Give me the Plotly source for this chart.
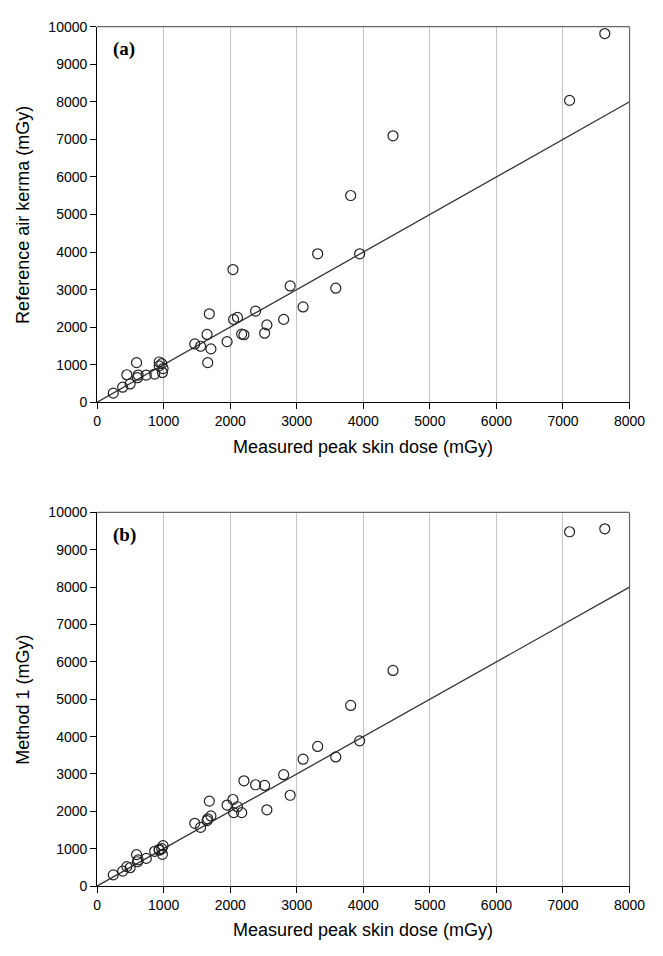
import plotly.graph_objects as go

# Measured peak skin dose (mGy) - shared x values
measured_psd = [243, 384, 496, 447, 593, 617, 607, 739, 865, 933, 972, 933, 991, 981,
                1467, 1555, 1652, 1662, 1686, 1710, 1953, 2041, 2051, 2109, 2172, 2206,
                2381, 2517, 2551, 2803, 2901, 3095, 3314, 3586, 3810, 3945, 4446, 7099, 7628]
# Panel (a): Reference air kerma (mGy)
ref_air_kerma = [243, 401, 489, 733, 1055, 725, 654, 725, 751, 1073, 1029, 969, 898, 793,
                 1553, 1492, 1806, 1055, 2356, 1422, 1615, 3534, 2207, 2260, 1815, 1798,
                 2427, 1840, 2060, 2207, 3097, 2539, 3953, 3037, 5505, 3953, 7094, 8037, 9817]
# Panel (b): Method 1 (mGy)
method1 = [300, 400, 490, 520, 840, 700, 650, 740, 930, 980, 1000, 960, 1080, 850,
           1680, 1570, 1750, 1800, 2272, 1877, 2167, 2316, 1965, 2123, 1965, 2816,
           2711, 2693, 2040, 2980, 2430, 3395, 3737, 3455, 4833, 3886, 5771, 9482, 9561]
# Identity line
line_x = [0, 8000]
line_y = [0, 8000]

x_ticks = list(range(0, 8001, 1000))
y_ticks = list(range(0, 10001, 1000))
x_tick_text = [str(v) for v in x_ticks]
y_tick_text = [str(v) for v in y_ticks]

W, H = 663, 956
FONT = "Liberation Sans, Arial, sans-serif"

fig = go.Figure()

# pixel geometry
xl, xr = 96, 645
panels = [
    dict(top=19, bottom=401, xa="x", ya="y", y=ref_air_kerma, label="(a)",
         ytitle="Reference air kerma (mGy)"),
    dict(top=513, bottom=893, xa="x2", ya="y2", y=method1, label="(b)",
         ytitle="Method 1 (mGy)"),
]

annotations = []
shapes = []
for i, p in enumerate(panels):
    fig.add_trace(go.Scatter(x=line_x, y=line_y, mode="lines",
                             line=dict(color="#333333", width=1.3),
                             xaxis=p["xa"], yaxis=p["ya"], showlegend=False,
                             hoverinfo="skip"))
    fig.add_trace(go.Scatter(x=measured_psd, y=p["y"], mode="markers",
                             marker=dict(symbol="circle-open", size=10,
                                         color="#222222", line=dict(width=1.2)),
                             xaxis=p["xa"], yaxis=p["ya"], showlegend=False))
    suffix = "" if i == 0 else "2"
    dom_x = [xl / W, xr / W]
    dom_y = [1 - p["bottom"] / H, 1 - p["top"] / H]
    axis_common = dict(showline=True, linecolor="black", linewidth=1,
                       ticks="outside", ticklen=6, tickcolor="black",
                       tickfont=dict(family=FONT, size=14, color="black"),
                       zeroline=False)
    fig.update_layout(**{
        "xaxis" + suffix: dict(domain=dom_x, range=[0, 8000], tickvals=x_ticks,
                               ticktext=x_tick_text,
                               showgrid=True, gridcolor="#c4c4c4", gridwidth=1,
                               anchor="y" + suffix, **axis_common),
        "yaxis" + suffix: dict(domain=dom_y, range=[0, 10000], tickvals=y_ticks,
                               ticktext=y_tick_text,
                               showgrid=False, anchor="x" + suffix, **axis_common),
    })
    # top and right frame lines
    shapes.append(dict(type="line", xref="paper", yref="paper",
                       x0=dom_x[0], x1=dom_x[1], y0=dom_y[1], y1=dom_y[1],
                       line=dict(color="#666666", width=1.2)))
    shapes.append(dict(type="line", xref="paper", yref="paper",
                       x0=dom_x[1], x1=dom_x[1], y0=dom_y[0], y1=dom_y[1],
                       line=dict(color="#666666", width=1.2)))
    # panel label
    annotations.append(dict(text="<b>" + p["label"] + "</b>", xref="paper", yref="paper",
                            x=124 / W, y=1 - (p["top"] + 23) / H, showarrow=False,
                            xanchor="center", yanchor="middle",
                            font=dict(family="Liberation Serif, Times New Roman, serif",
                                      size=19, color="black")))
    # axis titles
    annotations.append(dict(text="Measured peak skin dose (mGy)", xref="paper", yref="paper",
                            x=(xl + xr) / 2 / W, y=1 - (p["bottom"] + 45) / H,
                            showarrow=False, xanchor="center", yanchor="middle",
                            font=dict(family=FONT, size=18, color="black")))
    annotations.append(dict(text=p["ytitle"], xref="paper", yref="paper",
                            x=20 / W, y=1 - (p["top"] + p["bottom"]) / 2 / H,
                            textangle=-90, showarrow=False, xanchor="center",
                            yanchor="middle",
                            font=dict(family=FONT, size=18, color="black")))

fig.update_layout(width=W, height=H, margin=dict(l=0, r=0, t=0, b=0),
                  paper_bgcolor="white", plot_bgcolor="white",
                  annotations=annotations, shapes=shapes,
                  font=dict(family=FONT, color="black"))

fig.write_html("out.html",
               post_script="document.body.style.margin='0';"
                           "document.body.style.overflow='hidden';"
                           "document.documentElement.style.overflow='hidden';")
